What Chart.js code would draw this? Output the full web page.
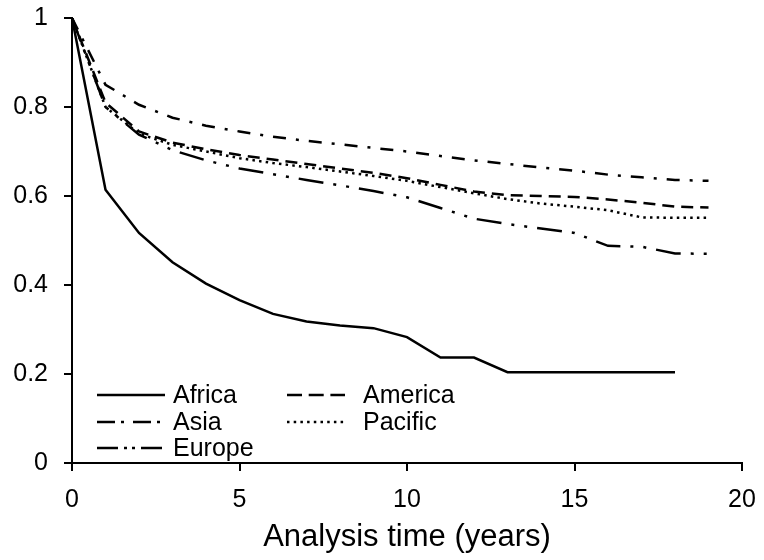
<!DOCTYPE html>
<html lang="en">
<head>
    <meta charset="UTF-8">
    <title>Survival by region</title>
    <script src="https://cdn.jsdelivr.net/npm/chart.js@4.4.0/dist/chart.umd.min.js"></script>
    <style>
        body { margin: 0; background: #fff; }
    </style>
</head>
<body>
    <canvas id="grafica" width="764" height="560"></canvas>
    <script>
        // años de seguimiento
        const years = [0, 1, 2, 3, 4, 5, 6, 7, 8, 9, 10, 11, 12, 13, 14, 15, 16, 17, 18, 19];
        const xTicks = [0, 5, 10, 15, 20];
        const yTicks = [0, 0.2, 0.4, 0.6, 0.8, 1];

        const africa  = [1, 0.614, 0.517, 0.451, 0.403, 0.366, 0.335, 0.318, 0.309, 0.303, 0.283, 0.237, 0.237, 0.204, 0.204, 0.204, 0.204, 0.204, 0.204];
        const america = [1, 0.810, 0.745, 0.720, 0.705, 0.692, 0.682, 0.672, 0.662, 0.652, 0.640, 0.625, 0.610, 0.602, 0.600, 0.598, 0.592, 0.585, 0.576, 0.574];
        const asia    = [1, 0.850, 0.805, 0.776, 0.758, 0.745, 0.733, 0.724, 0.716, 0.708, 0.700, 0.690, 0.680, 0.672, 0.664, 0.657, 0.648, 0.642, 0.636, 0.634];
        const pacific = [1, 0.800, 0.740, 0.715, 0.700, 0.685, 0.674, 0.665, 0.655, 0.645, 0.634, 0.620, 0.606, 0.593, 0.583, 0.576, 0.568, 0.552, 0.551, 0.551];
        const europe  = [1, 0.800, 0.738, 0.703, 0.680, 0.662, 0.649, 0.636, 0.624, 0.611, 0.597, 0.573, 0.549, 0.537, 0.527, 0.517, 0.488, 0.486, 0.471, 0.470];

        const fuente = 'Liberation Sans, Arial, sans-serif';

        function puntos(serie) {
            return serie.map((v, i) => ({ x: years[i], y: v }));
        }

        function serie(label, valores, dash) {
            return {
                label: label,
                data: puntos(valores),
                borderColor: '#000',
                borderWidth: 2.5,
                borderDash: dash,
                borderCapStyle: 'butt',
                pointRadius: 0,
                tension: 0,
                fill: false
            };
        }

        // leyenda dibujada dentro del area del grafico (abajo a la izquierda)
        const leyenda = {
            id: 'leyenda',
            afterDraw(chart) {
                const ctx = chart.ctx;
                const a = chart.chartArea;
                const cols = [a.left + 25, a.left + 215];
                const filas = [a.bottom - 68, a.bottom - 41, a.bottom - 15];
                ctx.save();
                ctx.font = '25px ' + fuente;
                ctx.fillStyle = '#000';
                ctx.textBaseline = 'middle';
                chart.data.datasets.forEach((ds, i) => {
                    const x = cols[i % 2];
                    const y = filas[Math.floor(i / 2)];
                    const largo = i % 2 === 0 ? 68 : 58;
                    ctx.strokeStyle = '#000';
                    ctx.lineWidth = 2.5;
                    ctx.setLineDash(ds.legendDash || ds.borderDash || []);
                    ctx.beginPath();
                    ctx.moveTo(x, y);
                    ctx.lineTo(x + largo, y);
                    ctx.stroke();
                    ctx.setLineDash([]);
                    ctx.fillText(ds.label, x + largo + (i % 2 === 0 ? 8 : 18), y + 1);
                });
                ctx.restore();
            }
        };

        Chart.defaults.color = '#000';
        Chart.defaults.font.family = fuente;

        const ds = [
            serie('Africa', africa, []),
            serie('America', america, [12, 7]),
            serie('Asia', asia, [13, 10, 3, 10]),
            serie('Pacific', pacific, [2.5, 4.2]),
            serie('Europe', europe, [25, 10, 3, 10, 3, 10])
        ];
        ds[1].legendDash = [15, 6.7];
        ds[2].legendDash = [18, 6, 3, 9];
        ds[4].legendDash = [21, 6, 3, 5, 3, 6];

        const ctx = document.getElementById('grafica').getContext('2d');
        const myChart = new Chart(ctx, {
            type: 'line',
            data: { datasets: ds },
            plugins: [leyenda],
            options: {
                responsive: false,
                animation: false,
                layout: { padding: { top: 18, right: 22, left: 0, bottom: 0 } },
                plugins: {
                    legend: { display: false },
                    tooltip: { enabled: false }
                },
                scales: {
                    x: {
                        type: 'linear',
                        min: 0,
                        max: 20,
                        afterBuildTicks: s => { s.ticks = xTicks.map(v => ({ value: v })); },
                        afterFit: s => {
                            s.height = 97;
                            s.paddingLeft = 0;
                            s.paddingRight = 0;
                        },
                        ticks: { font: { size: 25 }, padding: 14, maxRotation: 0 },
                        grid: { drawOnChartArea: false, tickLength: 8, color: '#000', lineWidth: 2 },
                        border: { color: '#000', width: 2 },
                        title: {
                            display: true,
                            text: 'Analysis time (years)',
                            font: { size: 31 },
                            padding: { top: 0, bottom: 4 }
                        }
                    },
                    y: {
                        type: 'linear',
                        min: 0,
                        max: 1,
                        afterBuildTicks: s => { s.ticks = yTicks.map(v => ({ value: v })); },
                        afterFit: s => {
                            s.width = 72;
                            s.paddingTop = 0;
                            s.paddingBottom = 0;
                        },
                        ticks: {
                            font: { size: 25 },
                            padding: 16,
                            callback: v => String(+v.toFixed(1))
                        },
                        grid: { drawOnChartArea: false, tickLength: 8, color: '#000', lineWidth: 2 },
                        border: { color: '#000', width: 2 }
                    }
                }
            }
        });
    </script>
</body>
</html>
